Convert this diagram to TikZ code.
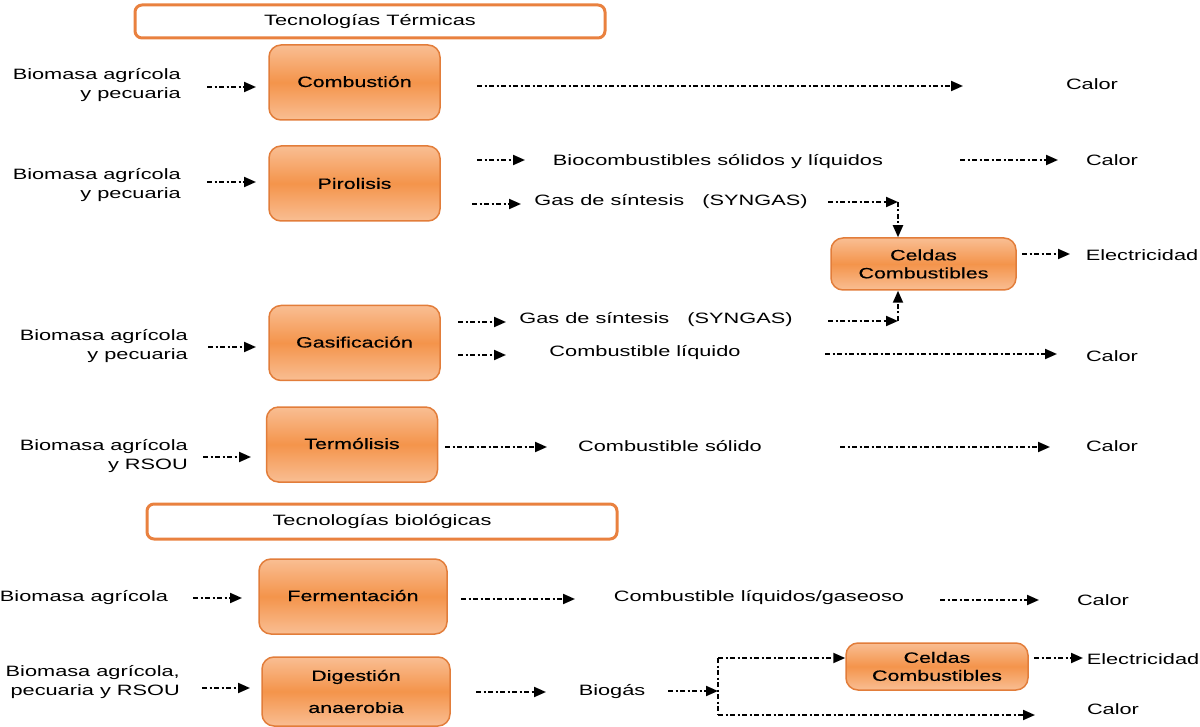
\documentclass[tikz,border=0pt]{standalone}
\usepackage{fontspec}
\setmainfont{Liberation Sans}[FakeStretch=1.45]
\newfontfamily\procfont{Liberation Sans}[FakeStretch=1.43, FakeBold=0.3]
\usetikzlibrary{arrows.meta}
\definecolor{procedge}{HTML}{E27D3A}
\definecolor{proclight}{HTML}{F9BE93}
\definecolor{procmid}{HTML}{F4944B}
\definecolor{hdredge}{HTML}{E9813F}
\newcommand{\lifted}[1]{\raisebox{2pt}{#1}}
\tikzset{
  flow/.style={line width=2pt, dash pattern=on 5pt off 2.5pt on 2pt off 2.5pt,
    -{Triangle[length=12pt,width=10pt]}},
  trunk/.style={line width=2pt, dash pattern=on 5pt off 2.5pt on 2pt off 2.5pt},
  proc/.style={draw=procedge, line width=1.5pt, rounded corners=12pt,
    top color=proclight, bottom color=proclight, middle color=procmid,
    minimum width=171pt, minimum height=75pt, align=center, inner sep=0pt,
    font=\procfont\fontsize{15}{19}\selectfont},
  hdr/.style={draw=hdredge, line width=3pt, rounded corners=7pt, fill=white,
    minimum width=470pt, minimum height=33pt, inner sep=0pt},
  lbl/.style={align=center, inner sep=0pt},
  src/.style={align=right, anchor=east, inner sep=0pt},
}
\begin{document}
\begin{tikzpicture}[x=1pt,y=-1pt,font=\fontsize{15}{19}\selectfont]
\useasboundingbox (0,0) rectangle (1200,727);

% ---------- thermal technologies ----------
\node[hdr] (h1) at (370,21.5) {Tecnologías Térmicas};

% combustion
\node[proc] (c1) at (354.5,82.5) {\lifted{Combustión}};
\node[src] (in1) at (181,85) {Biomasa agrícola\\y pecuaria};
\node[lbl] (k1) at (1092,84) {Calor};
\coordinate (a1s) at (207,87); \coordinate (a1e) at (256,87);
\draw[flow] (a1s) -- (a1e);
\coordinate (o1s) at (477,86); \coordinate (o1e) at (963,86);
\draw[flow] (o1s) -- (o1e);

% pyrolysis
\node[proc] (c2) at (354.5,183.5) {Pirolisis};
\node[src] (in2) at (181,185) {Biomasa agrícola\\y pecuaria};
\coordinate (a2s) at (207,182); \coordinate (a2e) at (256,182);
\draw[flow] (a2s) -- (a2e);
\node[lbl] (b2) at (718,162) {Biocombustibles sólidos y líquidos};
\node[lbl] (k2) at (1112,160) {Calor};
\coordinate (o2s) at (477,160); \coordinate (o2e) at (525,160);
\draw[flow] (o2s) -- (o2e);
\coordinate (p2s) at (960,160); \coordinate (p2e) at (1058,160);
\draw[flow] (p2s) -- (p2e);
\node[lbl] (g2) at (671,202) {Gas de síntesis\ \ \ (SYNGAS)};
\coordinate (q2s) at (472,204); \coordinate (q2e) at (521,204);
\draw[flow] (q2s) -- (q2e);

% fuel cells
\node[proc, minimum width=185pt, minimum height=52pt, font=\procfont\fontsize{15}{18}\selectfont]
  (cel) at (923.5,264) {Celdas\\Combustibles};
\node[lbl] (el1) at (1142,255) {Electricidad};
\coordinate (e1s) at (1022,254); \coordinate (e1e) at (1070,254);
\draw[flow] (e1s) -- (e1e);
\coordinate (sg1) at (828,202); \coordinate (j1) at (898,202);
\draw[flow] (sg1) -- (j1);
\draw[flow] (j1) -- (j1 |- cel.north);

% gasification
\node[proc] (c3) at (354.5,343) {\lifted{Gasificación}};
\node[src] (in3) at (188,346) {Biomasa agrícola\\y pecuaria};
\coordinate (a3s) at (208,347); \coordinate (a3e) at (256,347);
\draw[flow] (a3s) -- (a3e);
\node[lbl] (g3) at (656,320) {Gas de síntesis\ \ \ (SYNGAS)};
\coordinate (o3s) at (458,322); \coordinate (o3e) at (506,322);
\draw[flow] (o3s) -- (o3e);
\coordinate (sg2) at (828,321); \coordinate (j2) at (898,321);
\draw[flow] (sg2) -- (j2);
\draw[flow] (j2) -- (j2 |- cel.south);
\node[lbl] (l3) at (645,353) {Combustible líquido};
\node[lbl] (k3) at (1112,356) {Calor};
\coordinate (p3s) at (458,355); \coordinate (p3e) at (506,355);
\draw[flow] (p3s) -- (p3e);
\coordinate (r3s) at (825,354); \coordinate (r3e) at (1057,354);
\draw[flow] (r3s) -- (r3e);

% thermolysis
\node[proc] (c4) at (352,444.5) {\lifted{Termólisis}};
\node[src] (in4) at (188,456) {Biomasa agrícola\\y RSOU};
\coordinate (a4s) at (203,457); \coordinate (a4e) at (251,457);
\draw[flow] (a4s) -- (a4e);
\node[lbl] (s4) at (670,446) {Combustible sólido};
\node[lbl] (k4) at (1112,446) {Calor};
\coordinate (o4s) at (445,447); \coordinate (o4e) at (547,447);
\draw[flow] (o4s) -- (o4e);
\coordinate (p4s) at (840,447); \coordinate (p4e) at (1050,447);
\draw[flow] (p4s) -- (p4e);

% ---------- biological technologies ----------
\node[hdr, minimum height=35pt] (h2) at (382,521.5) {Tecnologías biológicas};

% fermentation
\node[proc, minimum width=188pt] (c5) at (353,596.5) {\lifted{Fermentación}};
\node[lbl] (in5) at (84,598) {Biomasa agrícola};
\coordinate (a5s) at (193,598); \coordinate (a5e) at (242,598);
\draw[flow] (a5s) -- (a5e);
\node[lbl] (f5) at (759,598) {Combustible líquidos/gaseoso};
\node[lbl] (k5) at (1103,600) {Calor};
\coordinate (o5s) at (461,599); \coordinate (o5e) at (575,599);
\draw[flow] (o5s) -- (o5e);
\coordinate (p5s) at (940,600); \coordinate (p5e) at (1039,600);
\draw[flow] (p5s) -- (p5e);

% anaerobic digestion
\node[proc, minimum width=188pt, minimum height=69pt, font=\procfont\fontsize{15}{32}\selectfont]
  (c6) at (356,691.5) {Digestión\\anaerobia};
\node[src] (in6) at (180,682) {Biomasa agrícola,\\pecuaria y RSOU};
\coordinate (a6s) at (202,688); \coordinate (a6e) at (250,688);
\draw[flow] (a6s) -- (a6e);
\node[lbl] (bg) at (612,692) {Biogás};
\coordinate (o6s) at (476,692); \coordinate (o6e) at (546,692);
\draw[flow] (o6s) -- (o6e);
\coordinate (jt) at (718,658); \coordinate (jb) at (718,715);
\draw[trunk] (jt) -- (jb);
\coordinate (bgo) at (668,691);
\draw[flow] (bgo) -- (bgo -| jt);
\node[proc, minimum width=182pt, minimum height=47pt, font=\procfont\fontsize{15}{18}\selectfont]
  (cel2) at (937,666.5) {Celdas\\Combustibles};
\draw[flow] (jt) -- (jt -| cel2.west);
\coordinate (kb) at (1035,715);
\draw[flow] (jb) -- (kb);
\node[lbl] (k6) at (1113,709) {Calor};
\node[lbl] (el2) at (1143,659) {Electricidad};
\coordinate (e2s) at (1034,658); \coordinate (e2e) at (1083,658);
\draw[flow] (e2s) -- (e2e);
\end{tikzpicture}
\end{document}
